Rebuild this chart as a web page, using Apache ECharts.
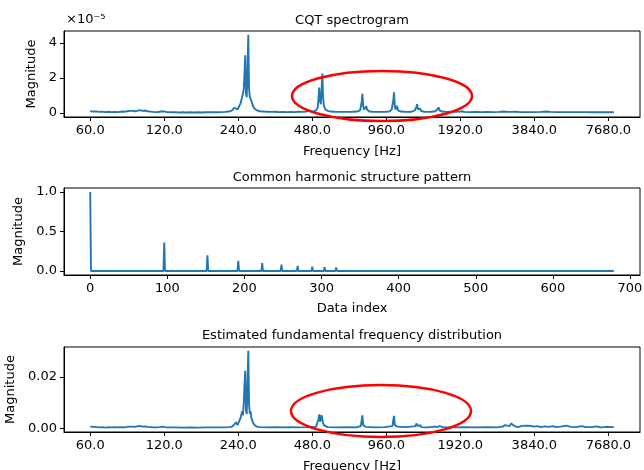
<!DOCTYPE html>
<html>
<head>
<meta charset="utf-8">
<script src="https://cdn.jsdelivr.net/npm/echarts@6/dist/echarts.min.js"></script>
<style>
	html, body { margin: 0; padding: 0; background: #fff; }
	#chart { width: 644px; height: 470px; }
</style>
</head>
<body>
<div id="chart"></div>
<script>
	// x axis of the CQT plots: bin index, 96 bins per octave starting at 60 Hz
	let freqTickBins = [0, 96, 192, 288, 384, 480, 576, 672]
	let freqTickLabels = ['60.0', '120.0', '240.0', '480.0', '960.0', '1920.0', '3840.0', '7680.0']
	let indexTicks = [0, 100, 200, 300, 400, 500, 600, 700]

	// CQT spectrogram magnitude, [bin, value x 1e-5]
	let cqtSpectrum = [
		[0, 0.10], [4, 0.08], [8, 0.09], [12, 0.06], [16, 0.08], [20, 0.05], [24, 0.07], [28, 0.05],
		[32, 0.06], [36, 0.05], [40, 0.08], [44, 0.07], [48, 0.10], [51, 0.12], [53, 0.22], [55, 0.12],
		[58, 0.10], [61, 0.12], [64, 0.16], [66, 0.18], [68, 0.12], [71, 0.14], [74, 0.10], [78, 0.08],
		[82, 0.06], [86, 0.05], [90, 0.07], [93, 0.10], [95, 0.14], [97, 0.08], [100, 0.05], [105, 0.04],
		[110, 0.05], [115, 0.03], [120, 0.04], [125, 0.03], [130, 0.04], [135, 0.03], [140, 0.04], [145, 0.03],
		[150, 0.04], [155, 0.04], [160, 0.05], [165, 0.04], [170, 0.05], [175, 0.06], [180, 0.08], [184, 0.15],
		[187, 0.30], [189, 0.38], [191, 0.20], [193, 0.25], [195, 0.55], [197, 0.90], [198, 0.80], [199, 1.30],
		[200, 2.20], [201, 3.30], [202, 1.10], [203, 0.90], [204, 2.60], [205, 4.46], [206, 1.40], [207, 0.90],
		[208, 1.00], [209, 0.70], [211, 0.40], [213, 0.25], [216, 0.15], [220, 0.10], [225, 0.08], [230, 0.07],
		[235, 0.06], [240, 0.07], [245, 0.05], [250, 0.06], [255, 0.05], [260, 0.06], [265, 0.05], [270, 0.07],
		[275, 0.06], [280, 0.08], [284, 0.14], [287, 0.08], [290, 0.10], [293, 0.15], [295, 0.30], [296, 0.80],
		[297, 1.45], [298, 0.70], [299, 0.50], [300, 1.20], [301, 2.25], [302, 0.90], [303, 0.40], [305, 0.20],
		[308, 0.12], [312, 0.08], [318, 0.07], [325, 0.06], [332, 0.06], [340, 0.07], [346, 0.08], [350, 0.15],
		[352, 0.60], [353, 1.10], [354, 0.40], [355, 0.20], [357, 0.30], [358, 0.38], [359, 0.20], [362, 0.08],
		[368, 0.06], [375, 0.06], [382, 0.07], [388, 0.08], [391, 0.20], [393, 0.70], [394, 1.18], [395, 0.40],
		[396, 0.20], [397, 0.30], [398, 0.40], [399, 0.15], [403, 0.08], [410, 0.06], [417, 0.07], [421, 0.15],
		[423, 0.35], [424, 0.50], [425, 0.20], [427, 0.15], [428, 0.25], [429, 0.12], [433, 0.07], [440, 0.06],
		[446, 0.08], [449, 0.15], [451, 0.20], [452, 0.32], [453, 0.15], [456, 0.08], [462, 0.06], [468, 0.07],
		[474, 0.06], [479, 0.08], [482, 0.10], [485, 0.06], [492, 0.05], [500, 0.06], [508, 0.05], [515, 0.06],
		[522, 0.05], [530, 0.06], [536, 0.08], [538, 0.15], [540, 0.07], [546, 0.06], [552, 0.07], [558, 0.05],
		[566, 0.05], [574, 0.05], [584, 0.06], [592, 0.08], [594, 0.10], [597, 0.06], [605, 0.05], [615, 0.05],
		[625, 0.05], [640, 0.05], [650, 0.04], [660, 0.04], [670, 0.04], [679, 0.04]
	]

	// common harmonic structure pattern, [data index, magnitude]
	let harmonicPattern = [
		[0, 1.0], [1, 0], [95, 0], [96, 0.36], [97, 0], [151, 0], [152, 0.20], [153, 0],
		[191, 0], [192, 0.13], [193, 0], [222, 0], [223, 0.10], [224, 0], [247, 0], [248, 0.08],
		[249, 0], [268, 0], [269, 0.065], [270, 0], [287, 0], [288, 0.055], [289, 0], [303, 0],
		[304, 0.05], [305, 0], [318, 0], [319, 0.045], [320, 0], [679, 0]
	]

	// estimated fundamental frequency distribution, [bin, value]
	let f0Distribution = [
		[0, 0.0006], [4, 0.0005], [8, 0.0004], [12, 0.0003], [16, 0.0004], [20, 0.0002], [24, 0.0004], [28, 0.0003],
		[32, 0.0004], [36, 0.0003], [40, 0.0004], [44, 0.0003], [48, 0.0005], [51, 0.0006], [53, 0.0011], [55, 0.0006],
		[58, 0.0005], [61, 0.0007], [64, 0.0009], [66, 0.0010], [68, 0.0006], [71, 0.0007], [74, 0.0005], [78, 0.0004],
		[82, 0.0003], [86, 0.0003], [90, 0.0004], [93, 0.0006], [95, 0.0008], [97, 0.0004], [100, 0.0003], [110, 0.0003],
		[120, 0.0002], [130, 0.0003], [140, 0.0002], [150, 0.0003], [160, 0.0003], [170, 0.0003], [180, 0.0004], [184, 0.0006],
		[187, 0.0015], [189, 0.0023], [191, 0.0012], [193, 0.0018], [195, 0.0040], [197, 0.0065], [198, 0.0050], [199, 0.0090],
		[200, 0.0160], [201, 0.0223], [202, 0.0070], [203, 0.0055], [204, 0.0180], [205, 0.0301], [206, 0.0090], [207, 0.0055],
		[208, 0.0065], [209, 0.0040], [211, 0.0022], [213, 0.0012], [216, 0.0006], [220, 0.0004], [230, 0.0003], [240, 0.0004],
		[250, 0.0003], [260, 0.0004], [270, 0.0003], [280, 0.0004], [287, 0.0005], [293, 0.0006], [295, 0.0012], [296, 0.0035],
		[297, 0.0054], [298, 0.0025], [299, 0.0035], [300, 0.0050], [301, 0.0046], [302, 0.0020], [303, 0.0012], [305, 0.0006],
		[308, 0.0004], [320, 0.0003], [335, 0.0004], [345, 0.0003], [351, 0.0008], [352, 0.0030], [353, 0.0050], [354, 0.0012],
		[355, 0.0006], [357, 0.0005], [358, 0.0008], [359, 0.0004], [370, 0.0003], [382, 0.0004], [392, 0.0008], [393, 0.0030],
		[394, 0.0048], [395, 0.0012], [396, 0.0005], [398, 0.0006], [399, 0.0003], [410, 0.0004], [422, 0.0008], [423, 0.0018],
		[424, 0.0024], [425, 0.0008], [427, 0.0006], [428, 0.0012], [429, 0.0004], [438, 0.0003], [446, 0.0006], [448, 0.0012],
		[450, 0.0005], [453, 0.0008], [455, 0.0011], [457, 0.0004], [470, 0.0003], [485, 0.0004], [500, 0.0003], [515, 0.0004],
		[528, 0.0003], [535, 0.0006], [538, 0.0012], [540, 0.0006], [544, 0.0008], [546, 0.0018], [548, 0.0022], [550, 0.0008],
		[555, 0.0004], [560, 0.0009], [562, 0.0005], [566, 0.0010], [568, 0.0006], [572, 0.0009], [575, 0.0006], [580, 0.0008],
		[584, 0.0004], [590, 0.0007], [595, 0.0005], [600, 0.0008], [604, 0.0004], [610, 0.0006], [617, 0.0010], [620, 0.0008],
		[623, 0.0005], [630, 0.0004], [638, 0.0008], [642, 0.0004], [650, 0.0004], [657, 0.0007], [662, 0.0003], [670, 0.0005],
		[679, 0.0004]
	]

	let font = 'DejaVu Sans'
	let fs = 13
	let lineColor = '#1f77b4'

	function makeGrid(top, height) {
		return {
			left: 64, top: top, width: 576, height: height,
			show: true, borderColor: '#000', borderWidth: 1, backgroundColor: 'transparent',
			containLabel: false, outerBoundsMode: 'none'
		}
	}

	function makeXAxis(gridIndex, ticks, labels, name, gap) {
		return {
			gridIndex: gridIndex,
			type: 'value',
			min: -34, max: 713,
			name: name,
			nameLocation: 'middle',
			nameGap: gap,
			nameTextStyle: { color: '#000', fontFamily: font, fontSize: fs },
			axisLine: { show: true, onZero: false, lineStyle: { color: '#000', width: 1 } },
			axisTick: { show: true, inside: false, length: 4, customValues: ticks, lineStyle: { color: '#000' } },
			axisLabel: {
				show: true, margin: 7, color: '#000', fontFamily: font, fontSize: fs,
				customValues: ticks,
				formatter: (v) => {
					let i = ticks.indexOf(v)
					return labels ? labels[i] : String(v)
				}
			},
			splitLine: { show: false }
		}
	}

	function makeYAxis(gridIndex, min, max, ticks, labels, gap) {
		return {
			gridIndex: gridIndex,
			type: 'value',
			min: min, max: max,
			name: 'Magnitude',
			nameLocation: 'middle',
			nameGap: gap,
			nameTextStyle: { color: '#000', fontFamily: font, fontSize: fs },
			axisLine: { show: true, onZero: false, lineStyle: { color: '#000', width: 1 } },
			axisTick: { show: true, inside: false, length: 4, customValues: ticks, lineStyle: { color: '#000' } },
			axisLabel: {
				show: true, margin: 7, color: '#000', fontFamily: font, fontSize: fs,
				customValues: ticks,
				formatter: (v) => labels[ticks.indexOf(v)]
			},
			splitLine: { show: false }
		}
	}

	function makeTitle(text, top) {
		return {
			text: text, left: 352, top: top, textAlign: 'center', padding: 0,
			textStyle: { color: '#000', fontFamily: font, fontSize: fs, fontWeight: 'normal' }
		}
	}

	function makeSeries(idx, data) {
		return {
			type: 'line',
			xAxisIndex: idx, yAxisIndex: idx,
			data: data,
			showSymbol: false,
			lineStyle: { color: lineColor, width: 1.9 },
			animation: false
		}
	}

	let myChart = echarts.init(document.getElementById('chart'))
	let option = {
		animation: false,
		backgroundColor: '#fff',
		title: [
			makeTitle('CQT spectrogram', 14),
			makeTitle('Common harmonic structure pattern', 171),
			makeTitle('Estimated fundamental frequency distribution', 329)
		],
		grid: [makeGrid(31, 86), makeGrid(188, 87), makeGrid(347, 85)],
		xAxis: [
			makeXAxis(0, freqTickBins, freqTickLabels, 'Frequency [Hz]', 28),
			makeXAxis(1, indexTicks, null, 'Data index', 27),
			makeXAxis(2, freqTickBins, freqTickLabels, 'Frequency [Hz]', 28)
		],
		yAxis: [
			makeYAxis(0, -0.23, 4.68, [0, 2, 4], ['0', '2', '4'], 18),
			makeYAxis(1, -0.05, 1.05, [0, 0.5, 1.0], ['0.0', '0.5', '1.0'], 30),
			makeYAxis(2, -0.0015, 0.0316, [0, 0.02], ['0.00', '0.02'], 41)
		],
		series: [
			makeSeries(0, cqtSpectrum),
			makeSeries(1, harmonicPattern),
			makeSeries(2, f0Distribution)
		],
		graphic: [
			{
				type: 'text', left: 66, top: 13,
				style: { text: '×10⁻⁵', fill: '#000', font: fs + 'px "DejaVu Sans"' }
			},
			{
				type: 'ellipse', z: 100,
				shape: { cx: 382, cy: 96, rx: 90, ry: 25 },
				style: { fill: 'none', stroke: '#ff0000', lineWidth: 2.5 }
			},
			{
				type: 'ellipse', z: 100,
				shape: { cx: 381, cy: 411, rx: 90, ry: 26 },
				style: { fill: 'none', stroke: '#ff0000', lineWidth: 2.5 }
			}
		]
	}
	myChart.setOption(option)
</script>
</body>
</html>
